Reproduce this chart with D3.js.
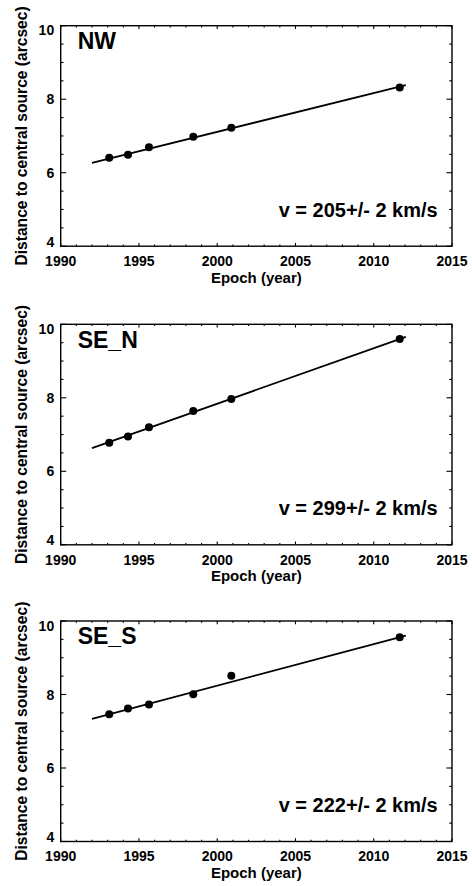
<!DOCTYPE html>
<html><head><meta charset="utf-8">
<script src="https://cdn.jsdelivr.net/npm/d3@7"></script>
<style>
body{margin:0;background:#fff}
text{font-family:"Liberation Sans",Arial,Helvetica,sans-serif;font-weight:bold;fill:#000}
</style>
</head><body>
<svg id="c" width="472" height="886"></svg>
<script>
// ---- data ----
const panelNames = ["NW", "SE_N", "SE_S"];
const velocityLabels = ["v = 205+/- 2 km/s", "v = 299+/- 2 km/s", "v = 222+/- 2 km/s"];
const epochs = [1993.1, 1994.3, 1995.64, 1998.47, 2000.9, 2011.66];
const distNW  = [6.41, 6.49, 6.69, 6.98, 7.22, 8.32];
const distSEN = [6.78, 6.95, 7.20, 7.64, 7.97, 9.60];
const distSES = [7.46, 7.62, 7.73, 8.01, 8.51, 9.56];
const fitYears = [1992.0, 2012.05];
const fitNW  = [6.27, 8.38];
const fitSEN = [6.63, 9.66];
const fitSES = [7.34, 9.60];
const xMajorTicks = [1990, 1995, 2000, 2005, 2010, 2015];
const yMajorTicks = [4, 6, 8, 10];
const xTitle = "Epoch (year)";
const yTitle = "Distance to central source (arcsec)";

const panels = [
  {name: panelNames[0], vel: velocityLabels[0], dist: distNW,  fit: fitNW},
  {name: panelNames[1], vel: velocityLabels[1], dist: distSEN, fit: fitSEN},
  {name: panelNames[2], vel: velocityLabels[2], dist: distSES, fit: fitSES}
];

// ---- layout ----
const svg = d3.select("#c");
const L = 60.7, R = 452, H = 220.5;
const tops = [25.7, 324.3, 621];
const x = d3.scaleLinear().domain([1990, 2015]).range([L, R]);
const xMinor = d3.range(1990, 2015.01, 1);
const yMinor = d3.range(4, 10.01, 0.5);
const xMaj = 3.3, xMin = 1.7, yMaj = 5.5, yMin = 2.8;

panels.forEach((p, i) => {
  const top = tops[i], bot = top + H;
  const y = d3.scaleLinear().domain([4, 10]).range([bot, top]);
  const g = svg.append("g");

  // ticks (inward, on all four sides)
  const tk = g.append("g").attr("stroke", "#000").attr("stroke-width", 1.1);
  xMinor.forEach(v => {
    const len = xMajorTicks.includes(v) ? xMaj : xMin;
    tk.append("line").attr("x1", x(v)).attr("x2", x(v)).attr("y1", bot).attr("y2", bot - len);
    tk.append("line").attr("x1", x(v)).attr("x2", x(v)).attr("y1", top).attr("y2", top + len);
  });
  yMinor.forEach(v => {
    const len = yMajorTicks.includes(v) ? yMaj : yMin;
    tk.append("line").attr("x1", L).attr("x2", L + len).attr("y1", y(v)).attr("y2", y(v));
    tk.append("line").attr("x1", R).attr("x2", R - len).attr("y1", y(v)).attr("y2", y(v));
  });

  // frame
  g.append("rect").attr("x", L).attr("y", top).attr("width", R - L).attr("height", H)
    .attr("fill", "none").attr("stroke", "#000").attr("stroke-width", 1.4);

  // tick labels
  xMajorTicks.forEach(v => {
    g.append("text").attr("x", x(v)).attr("y", bot + 19.7).attr("text-anchor", "middle")
      .style("font-size", "14px").text(v);
  });
  yMajorTicks.forEach(v => {
    let yy = y(v) + 5;
    if (v === 10) yy = y(v) + 9.5;
    if (v === 4) yy = y(v) + 0.3;
    g.append("text").attr("x", L - 6.5).attr("y", yy).attr("text-anchor", "end")
      .style("font-size", "14px").text(v);
  });

  // axis titles
  g.append("text").attr("x", (L + R) / 2).attr("y", bot + 36.4).attr("text-anchor", "middle")
    .style("font-size", "15px").text(xTitle);
  g.append("text").attr("transform", `translate(26.5,${(top + bot) / 2}) rotate(-90)`)
    .attr("text-anchor", "middle").style("font-size", "15.6px").text(yTitle);

  // fit line
  const line = d3.line().x(d => x(d[0])).y(d => y(d[1]));
  g.append("path").datum(fitYears.map((yr, k) => [yr, p.fit[k]]))
    .attr("d", line).attr("fill", "none").attr("stroke", "#000").attr("stroke-width", 1.8);

  // points
  g.selectAll("circle.pt").data(epochs.map((e, k) => [e, p.dist[k]])).enter()
    .append("circle").attr("class", "pt").attr("cx", d => x(d[0])).attr("cy", d => y(d[1]))
    .attr("r", 4).attr("fill", "#000");

  // labels
  g.append("text").attr("x", 77.7).attr("y", top + 23.3).style("font-size", "23px").text(p.name);
  g.append("text").attr("x", 437.7).attr("y", top + 191).attr("text-anchor", "end")
    .style("font-size", "20px").text(p.vel);
});
</script>
</body></html>
